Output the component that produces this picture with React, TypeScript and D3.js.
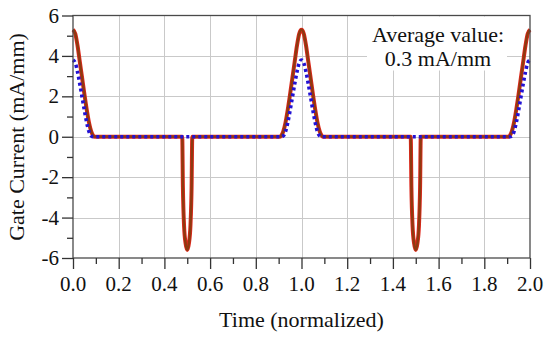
import { useRef, useEffect } from "react";
import * as d3 from "d3";

// red solid trace
const redTime = [
  0, 0.01, 0.02, 0.03, 0.04, 0.05, 0.06, 0.07, 0.08, 0.09, 0.095,
  0.478, 0.481, 0.486, 0.493, 0.5, 0.507, 0.514, 0.519, 0.522,
  0.905, 0.91, 0.92, 0.93, 0.94, 0.95, 0.96, 0.97, 0.98, 0.99, 1.0,
  1.01, 1.02, 1.03, 1.04, 1.05, 1.06, 1.07, 1.08, 1.09, 1.095,
  1.478, 1.481, 1.486, 1.493, 1.5, 1.507, 1.514, 1.519, 1.522,
  1.905, 1.91, 1.92, 1.93, 1.94, 1.95, 1.96, 1.97, 1.98, 1.99, 2.0,
];
const redValue = [
  5.3, 5.1, 4.5, 3.7, 2.9, 2.1, 1.35, 0.7, 0.25, 0.03, 0,
  0, -2.5, -4.4, -5.3, -5.6, -5.3, -4.4, -2.5, 0,
  0, 0.03, 0.25, 0.7, 1.35, 2.1, 2.9, 3.7, 4.5, 5.1, 5.3,
  5.1, 4.5, 3.7, 2.9, 2.1, 1.35, 0.7, 0.25, 0.03, 0,
  0, -2.5, -4.4, -5.3, -5.6, -5.3, -4.4, -2.5, 0,
  0, 0.03, 0.25, 0.7, 1.35, 2.1, 2.9, 3.7, 4.5, 5.1, 5.3,
];

// blue dotted trace
const blueTime = [
  0, 0.01, 0.02, 0.03, 0.04, 0.05, 0.06, 0.07, 0.08, 0.088,
  0.912, 0.92, 0.93, 0.94, 0.95, 0.96, 0.97, 0.98, 0.99, 1.0,
  1.01, 1.02, 1.03, 1.04, 1.05, 1.06, 1.07, 1.08, 1.088,
  1.912, 1.92, 1.93, 1.94, 1.95, 1.96, 1.97, 1.98, 1.99, 2.0,
];
const blueValue = [
  3.8, 3.65, 3.2, 2.6, 1.95, 1.3, 0.7, 0.25, 0.04, 0,
  0, 0.04, 0.25, 0.7, 1.3, 1.95, 2.6, 3.2, 3.65, 3.8,
  3.65, 3.2, 2.6, 1.95, 1.3, 0.7, 0.25, 0.04, 0,
  0, 0.04, 0.25, 0.7, 1.3, 1.95, 2.6, 3.2, 3.65, 3.8,
];

const xTicks = [0, 0.2, 0.4, 0.6, 0.8, 1.0, 1.2, 1.4, 1.6, 1.8, 2.0];
const yTicks = [-6, -4, -2, 0, 2, 4, 6];
const noteLines = ["Average value:", "0.3 mA/mm"];

export default function App() {
  const svgRef = useRef<SVGSVGElement>(null);

  useEffect(() => {
    const svg = svgRef.current;
    if (!svg) return;

    const width = 550;
    const height = 337;
    const left = 73, right = 530, top = 15.5, bottom = 258;
    const font = "'Liberation Serif', 'Times New Roman', serif";

    const x = d3.scaleLinear().domain([0, 2]).range([left, right]);
    const y = d3.scaleLinear().domain([-6, 6]).range([bottom, top]);

    const sel = d3.select(svg);
    sel.selectAll("*").remove();
    sel.attr("width", width).attr("height", height);

    // grid
    const grid = sel.append("g").attr("stroke", "#c9c9c9").attr("stroke-width", 1);
    grid.selectAll("line.v")
      .data(xTicks.slice(1, -1))
      .join("line")
      .attr("x1", (d) => Math.round(x(d)) + 0.5)
      .attr("x2", (d) => Math.round(x(d)) + 0.5)
      .attr("y1", top)
      .attr("y2", bottom);
    grid.selectAll("line.h")
      .data(yTicks.slice(1, -1))
      .join("line")
      .attr("class", "h")
      .attr("x1", left)
      .attr("x2", right)
      .attr("y1", (d) => Math.round(y(d)) + 0.5)
      .attr("y2", (d) => Math.round(y(d)) + 0.5);

    // annotation background
    sel.append("rect")
      .attr("x", 367).attr("y", top + 1)
      .attr("width", 140).attr("height", 54)
      .attr("fill", "#fff");

    // traces
    const redPts: [number, number][] = redTime.map((t, i) => [t, redValue[i]]);
    const bluePts: [number, number][] = blueTime.map((t, i) => [t, blueValue[i]]);
    const line = d3.line<[number, number]>()
      .x((d) => x(d[0]))
      .y((d) => y(d[1]))
      .curve(d3.curveMonotoneX);

    sel.append("path").datum(redPts)
      .attr("fill", "none").attr("stroke", "#e0281c").attr("stroke-width", 4)
      .attr("d", line);
    sel.append("path").datum(redPts)
      .attr("fill", "none").attr("stroke", "#8e3a10").attr("stroke-width", 2.4)
      .attr("d", line);
    sel.append("path").datum(bluePts)
      .attr("fill", "none").attr("stroke", "#2212d4").attr("stroke-width", 3.6)
      .attr("stroke-dasharray", "3 3")
      .attr("d", line);

    // frame
    sel.append("rect")
      .attr("x", left).attr("y", top)
      .attr("width", right - left).attr("height", bottom - top)
      .attr("fill", "none").attr("stroke", "#4a4a4a").attr("stroke-width", 1.3);

    // axes
    const xAxis = sel.append("g")
      .attr("transform", `translate(0,${bottom})`)
      .call(d3.axisBottom(x).tickValues(d3.range(0, 2.01, 0.1)).tickSize(0).tickFormat(() => ""));
    xAxis.select(".domain").remove();
    xAxis.selectAll(".tick line")
      .attr("stroke", "#333")
      .attr("stroke-width", 1.3)
      .attr("y2", (_d, i) => (i % 2 === 0 ? 11 : 6));

    const yAxis = sel.append("g")
      .attr("transform", `translate(${left},0)`)
      .call(d3.axisLeft(y).tickValues(d3.range(-6, 6.01, 1)).tickSize(0).tickFormat(() => ""));
    yAxis.select(".domain").remove();
    yAxis.selectAll(".tick line")
      .attr("stroke", "#333")
      .attr("stroke-width", 1.3)
      .attr("x2", (_d, i) => (i % 2 === 0 ? -11 : -6));

    // tick labels
    sel.append("g").selectAll("text")
      .data(xTicks)
      .join("text")
      .attr("x", (d) => x(d))
      .attr("y", 291)
      .attr("text-anchor", "middle")
      .attr("font-family", font)
      .attr("font-size", 21)
      .attr("fill", "#111")
      .text((d) => d.toFixed(1));
    sel.append("g").selectAll("text")
      .data(yTicks)
      .join("text")
      .attr("x", 59)
      .attr("y", (d) => y(d) + 7)
      .attr("text-anchor", "end")
      .attr("font-family", font)
      .attr("font-size", 21)
      .attr("fill", "#111")
      .text((d) => (d < 0 ? `-${Math.abs(d)}` : `${d}`));

    // titles
    sel.append("text")
      .attr("x", (left + right) / 2)
      .attr("y", 327)
      .attr("text-anchor", "middle")
      .attr("font-family", font)
      .attr("font-size", 22)
      .attr("fill", "#111")
      .text("Time (normalized)");
    sel.append("text")
      .attr("transform", "translate(24,137) rotate(-90)")
      .attr("text-anchor", "middle")
      .attr("font-family", font)
      .attr("font-size", 22)
      .attr("fill", "#111")
      .text("Gate Current (mA/mm)");

    // note
    sel.append("g").selectAll("text")
      .data(noteLines)
      .join("text")
      .attr("x", 438)
      .attr("y", (_d, i) => 42 + i * 24)
      .attr("text-anchor", "middle")
      .attr("font-family", font)
      .attr("font-size", 22)
      .attr("fill", "#111")
      .text((d) => d);
  }, []);

  return <svg ref={svgRef} style={{ position: "absolute", left: 0, top: 0 }} />;
}
